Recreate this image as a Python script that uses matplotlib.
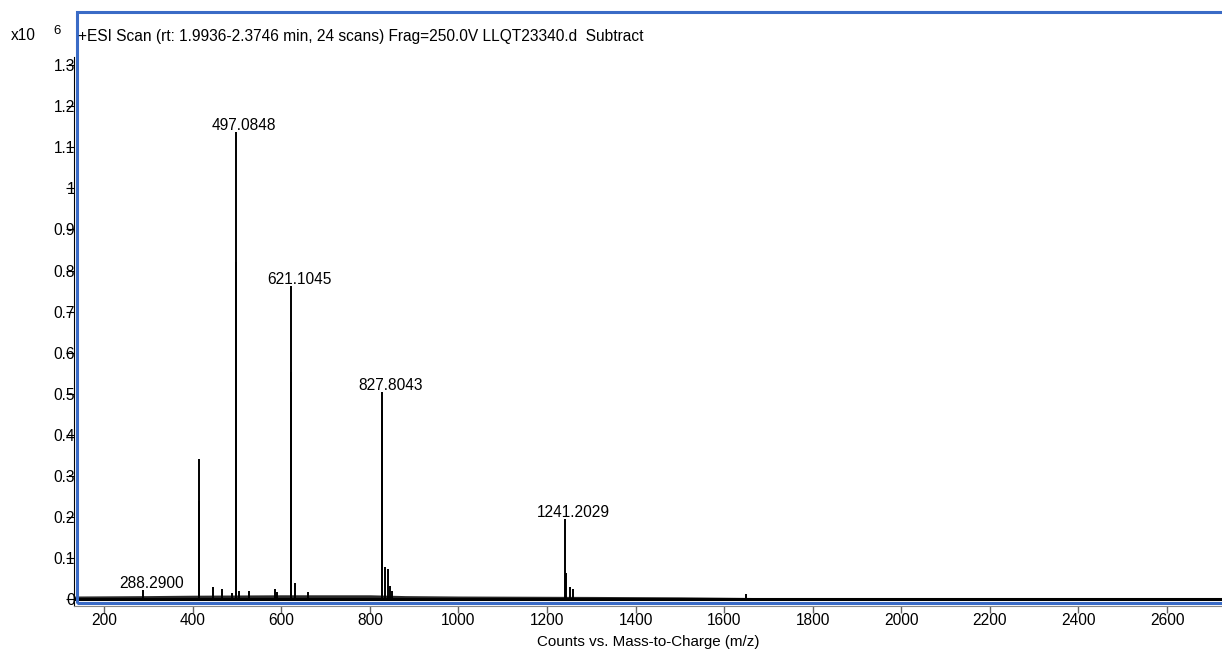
import numpy as np
import matplotlib
matplotlib.use("Agg")
import matplotlib.pyplot as plt
from matplotlib.patches import Rectangle

plt.rcParams['font.family'] = ['Liberation Sans', 'DejaVu Sans']

# peak list (m/z, counts in 1e6)
peak_mz = [288.29, 413.6, 414.0, 445.4, 465.6, 488.0, 497.0848, 497.8, 505.5, 528.0,
           585.4, 591.3, 621.1045, 621.8, 630.3, 660.0, 827.8043, 828.3, 834.5, 840.5,
           845.7, 850.0, 1241.2029, 1242.4, 1252.0, 1259.6, 1650.0]
peak_h = [0.023, 0.24, 0.341, 0.029, 0.025, 0.015, 1.138, 0.82, 0.021, 0.020,
          0.025, 0.018, 0.762, 0.553, 0.039, 0.018, 0.504, 0.46, 0.078, 0.074,
          0.033, 0.020, 0.195, 0.064, 0.031, 0.025, 0.012]

# noise floor level
noise_mz = [132, 300, 400, 600, 800, 880, 1000, 1300, 1500, 1700, 2000, 2724]
noise_top = [0.008, 0.009, 0.010, 0.011, 0.011, 0.009, 0.008, 0.007, 0.006, 0.004, 0.003, 0.003]

labels_mz = [288.29, 497.0848, 621.1045, 827.8043, 1241.2029]
labels_h = [0.023, 1.138, 0.762, 0.504, 0.195]
labels_txt = ['288.2900', '497.0848', '621.1045', '827.8043', '1241.2029']

W, H = 1222, 649
fs = 11.2
fig = plt.figure(figsize=(W / 100, H / 100), dpi=100)
ax = fig.add_axes([74 / W, (H - 606) / H, (W - 74) / W, (606 - 12) / H])

ax.fill_between(noise_mz, 0, noise_top, color='#2a2a2a', lw=0)
ax.plot([132, 2724], [0.001, 0.001], color='black', lw=2.2)
ax.vlines(peak_mz, 0, peak_h, color='black', lw=1.4)

for m, h, t in zip(labels_mz, labels_h, labels_txt):
    ax.annotate(t, (m, h), xytext=(6, 1.5), textcoords='offset points',
                ha='center', va='baseline', fontsize=fs)

ax.set_xlim(132, 2724)
ax.set_ylim(-0.0163, 1.429)

yt = np.round(np.arange(0, 1.31, 0.1), 1)
ax.set_yticks(yt)
ax.set_yticklabels(['%g' % v for v in yt])
ax.set_xticks(np.arange(200, 2601, 200))

for s in ['top', 'right']:
    ax.spines[s].set_visible(False)
ax.spines['left'].set_bounds(-0.0163, 1.319)
ax.spines['bottom'].set_color('#888888')
ax.tick_params(axis='y', direction='out', length=6, pad=-6.8, labelsize=fs, width=0.8)
ax.tick_params(axis='x', direction='out', length=5, pad=0, labelsize=fs,
               color='#666666', width=1)

ax.set_xlabel('Counts vs. Mass-to-Charge (m/z)', fontsize=10.9, labelpad=5)

# blue frame of the plot panel
fig.add_artist(Rectangle((77 / W, (H - 603) / H), (1240 - 77) / W, (603 - 12) / H,
                         transform=fig.transFigure, fill=False, ec='#3a6bc6', lw=2.2))

fig.text(78 / W, (H - 36) / H, '+ESI Scan (rt: 1.9936-2.3746 min, 24 scans) Frag=250.0V LLQT23340.d  Subtract',
         fontsize=fs, va='center', ha='left')
fig.text(11 / W, (H - 35) / H, 'x10', fontsize=fs, va='center', ha='left')
fig.text(53 / W, (H - 31) / H, '6', fontsize=9.5, va='center', ha='left')

fig.savefig('out.png', dpi=100)
